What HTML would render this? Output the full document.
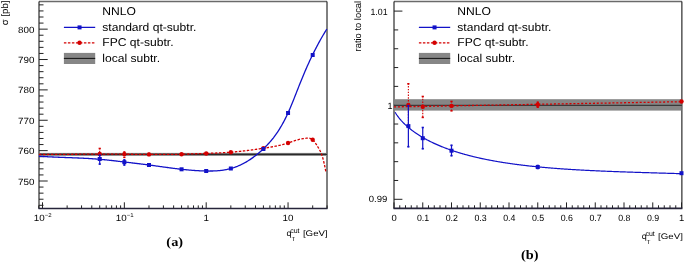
<!DOCTYPE html>
<html><head><meta charset="utf-8"><style>
html,body{margin:0;padding:0;background:#fff;width:685px;height:262px;overflow:hidden;}
svg{display:block;will-change:transform;text-rendering:geometricPrecision;font-family:"Liberation Sans", sans-serif;}
</style></head><body>
<svg width="685" height="262" viewBox="0 0 685 262">
<rect width="685" height="262" fill="#fff"/>
<line x1="39" y1="1.6" x2="327" y2="1.6" stroke="#6a6a6a" stroke-width="1.5" />
<line x1="39" y1="1.5" x2="39" y2="208.5" stroke="#000" stroke-width="1" />
<line x1="327" y1="1.5" x2="327" y2="208.5" stroke="#000" stroke-width="1" />
<line x1="39" y1="205.3" x2="43.5" y2="205.3" stroke="#222" stroke-width="1" />
<line x1="39" y1="199.22" x2="43.5" y2="199.22" stroke="#222" stroke-width="1" />
<line x1="39" y1="193.15" x2="43.5" y2="193.15" stroke="#222" stroke-width="1" />
<line x1="39" y1="187.07" x2="43.5" y2="187.07" stroke="#222" stroke-width="1" />
<line x1="39" y1="181" x2="47.7" y2="181" stroke="#222" stroke-width="1" />
<line x1="39" y1="174.93" x2="43.5" y2="174.93" stroke="#222" stroke-width="1" />
<line x1="39" y1="168.85" x2="43.5" y2="168.85" stroke="#222" stroke-width="1" />
<line x1="39" y1="162.78" x2="43.5" y2="162.78" stroke="#222" stroke-width="1" />
<line x1="39" y1="156.7" x2="43.5" y2="156.7" stroke="#222" stroke-width="1" />
<line x1="39" y1="150.63" x2="47.7" y2="150.63" stroke="#222" stroke-width="1" />
<line x1="39" y1="144.56" x2="43.5" y2="144.56" stroke="#222" stroke-width="1" />
<line x1="39" y1="138.48" x2="43.5" y2="138.48" stroke="#222" stroke-width="1" />
<line x1="39" y1="132.41" x2="43.5" y2="132.41" stroke="#222" stroke-width="1" />
<line x1="39" y1="126.33" x2="43.5" y2="126.33" stroke="#222" stroke-width="1" />
<line x1="39" y1="120.26" x2="47.7" y2="120.26" stroke="#222" stroke-width="1" />
<line x1="39" y1="114.19" x2="43.5" y2="114.19" stroke="#222" stroke-width="1" />
<line x1="39" y1="108.11" x2="43.5" y2="108.11" stroke="#222" stroke-width="1" />
<line x1="39" y1="102.04" x2="43.5" y2="102.04" stroke="#222" stroke-width="1" />
<line x1="39" y1="95.96" x2="43.5" y2="95.96" stroke="#222" stroke-width="1" />
<line x1="39" y1="89.89" x2="47.7" y2="89.89" stroke="#222" stroke-width="1" />
<line x1="39" y1="83.82" x2="43.5" y2="83.82" stroke="#222" stroke-width="1" />
<line x1="39" y1="77.74" x2="43.5" y2="77.74" stroke="#222" stroke-width="1" />
<line x1="39" y1="71.67" x2="43.5" y2="71.67" stroke="#222" stroke-width="1" />
<line x1="39" y1="65.59" x2="43.5" y2="65.59" stroke="#222" stroke-width="1" />
<line x1="39" y1="59.52" x2="47.7" y2="59.52" stroke="#222" stroke-width="1" />
<line x1="39" y1="53.45" x2="43.5" y2="53.45" stroke="#222" stroke-width="1" />
<line x1="39" y1="47.37" x2="43.5" y2="47.37" stroke="#222" stroke-width="1" />
<line x1="39" y1="41.3" x2="43.5" y2="41.3" stroke="#222" stroke-width="1" />
<line x1="39" y1="35.22" x2="43.5" y2="35.22" stroke="#222" stroke-width="1" />
<line x1="39" y1="29.15" x2="47.7" y2="29.15" stroke="#222" stroke-width="1" />
<line x1="39" y1="23.08" x2="43.5" y2="23.08" stroke="#222" stroke-width="1" />
<line x1="39" y1="17" x2="43.5" y2="17" stroke="#222" stroke-width="1" />
<line x1="39" y1="10.93" x2="43.5" y2="10.93" stroke="#222" stroke-width="1" />
<line x1="39" y1="4.85" x2="43.5" y2="4.85" stroke="#222" stroke-width="1" />
<line x1="38.75" y1="208.5" x2="38.75" y2="205.4" stroke="#222" stroke-width="1" />
<line x1="42.5" y1="208.5" x2="42.5" y2="202.3" stroke="#222" stroke-width="1" />
<line x1="67.14" y1="208.5" x2="67.14" y2="205.4" stroke="#222" stroke-width="1" />
<line x1="81.55" y1="208.5" x2="81.55" y2="205.4" stroke="#222" stroke-width="1" />
<line x1="91.78" y1="208.5" x2="91.78" y2="205.4" stroke="#222" stroke-width="1" />
<line x1="99.71" y1="208.5" x2="99.71" y2="205.4" stroke="#222" stroke-width="1" />
<line x1="106.19" y1="208.5" x2="106.19" y2="205.4" stroke="#222" stroke-width="1" />
<line x1="111.67" y1="208.5" x2="111.67" y2="205.4" stroke="#222" stroke-width="1" />
<line x1="116.42" y1="208.5" x2="116.42" y2="205.4" stroke="#222" stroke-width="1" />
<line x1="120.6" y1="208.5" x2="120.6" y2="205.4" stroke="#222" stroke-width="1" />
<line x1="124.35" y1="208.5" x2="124.35" y2="202.3" stroke="#222" stroke-width="1" />
<line x1="148.99" y1="208.5" x2="148.99" y2="205.4" stroke="#222" stroke-width="1" />
<line x1="163.4" y1="208.5" x2="163.4" y2="205.4" stroke="#222" stroke-width="1" />
<line x1="173.63" y1="208.5" x2="173.63" y2="205.4" stroke="#222" stroke-width="1" />
<line x1="181.56" y1="208.5" x2="181.56" y2="205.4" stroke="#222" stroke-width="1" />
<line x1="188.04" y1="208.5" x2="188.04" y2="205.4" stroke="#222" stroke-width="1" />
<line x1="193.52" y1="208.5" x2="193.52" y2="205.4" stroke="#222" stroke-width="1" />
<line x1="198.27" y1="208.5" x2="198.27" y2="205.4" stroke="#222" stroke-width="1" />
<line x1="202.45" y1="208.5" x2="202.45" y2="205.4" stroke="#222" stroke-width="1" />
<line x1="206.2" y1="208.5" x2="206.2" y2="202.3" stroke="#222" stroke-width="1" />
<line x1="230.84" y1="208.5" x2="230.84" y2="205.4" stroke="#222" stroke-width="1" />
<line x1="245.25" y1="208.5" x2="245.25" y2="205.4" stroke="#222" stroke-width="1" />
<line x1="255.48" y1="208.5" x2="255.48" y2="205.4" stroke="#222" stroke-width="1" />
<line x1="263.41" y1="208.5" x2="263.41" y2="205.4" stroke="#222" stroke-width="1" />
<line x1="269.89" y1="208.5" x2="269.89" y2="205.4" stroke="#222" stroke-width="1" />
<line x1="275.37" y1="208.5" x2="275.37" y2="205.4" stroke="#222" stroke-width="1" />
<line x1="280.12" y1="208.5" x2="280.12" y2="205.4" stroke="#222" stroke-width="1" />
<line x1="284.3" y1="208.5" x2="284.3" y2="205.4" stroke="#222" stroke-width="1" />
<line x1="288.05" y1="208.5" x2="288.05" y2="202.3" stroke="#222" stroke-width="1" />
<line x1="312.69" y1="208.5" x2="312.69" y2="205.4" stroke="#222" stroke-width="1" />
<line x1="327.1" y1="208.5" x2="327.1" y2="205.4" stroke="#222" stroke-width="1" />
<line x1="38.5" y1="208.5" x2="327.5" y2="208.5" stroke="#26243a" stroke-width="1.6" />
<rect x="39.5" y="152.9" width="287" height="3.0" fill="#868686"/>
<line x1="39" y1="154.4" x2="327" y2="154.4" stroke="#2a2a2a" stroke-width="1.1" />
<path d="M38.9,154.5L39.62,154.5L40.34,154.5L41.06,154.5L41.78,154.5L42.5,154.49L43.21,154.49L43.93,154.49L44.65,154.49L45.37,154.49L46.09,154.48L46.81,154.48L47.53,154.48L48.25,154.47L48.97,154.47L49.69,154.47L50.4,154.46L51.12,154.46L51.84,154.45L52.56,154.45L53.28,154.44L54,154.44L54.72,154.43L55.44,154.43L56.16,154.42L56.88,154.42L57.6,154.41L58.31,154.41L59.03,154.4L59.75,154.39L60.47,154.39L61.19,154.38L61.91,154.37L62.63,154.37L63.35,154.36L64.07,154.36L64.79,154.35L65.5,154.34L66.22,154.34L66.94,154.33L67.66,154.32L68.38,154.32L69.1,154.31L69.82,154.3L70.54,154.29L71.26,154.29L71.98,154.28L72.7,154.27L73.41,154.27L74.13,154.26L74.85,154.25L75.57,154.25L76.29,154.24L77.01,154.23L77.73,154.23L78.45,154.22L79.17,154.22L79.89,154.21L80.6,154.2L81.32,154.2L82.04,154.19L82.76,154.19L83.48,154.18L84.2,154.17L84.92,154.17L85.64,154.16L86.36,154.16L87.08,154.15L87.8,154.15L88.51,154.14L89.23,154.14L89.95,154.14L90.67,154.13L91.39,154.13L92.11,154.12L92.83,154.12L93.55,154.12L94.27,154.11L94.99,154.11L95.7,154.11L96.42,154.11L97.14,154.11L97.86,154.1L98.58,154.1L99.3,154.1L100.02,154.1L100.74,154.1L101.46,154.1L102.18,154.1L102.9,154.1L103.61,154.1L104.33,154.1L105.05,154.1L105.77,154.1L106.49,154.1L107.21,154.1L107.93,154.11L108.65,154.11L109.37,154.11L110.09,154.11L110.8,154.12L111.52,154.12L112.24,154.12L112.96,154.13L113.68,154.13L114.4,154.13L115.12,154.14L115.84,154.14L116.56,154.14L117.28,154.15L118,154.15L118.71,154.16L119.43,154.16L120.15,154.17L120.87,154.17L121.59,154.18L122.31,154.18L123.03,154.19L123.75,154.19L124.47,154.2L125.19,154.21L125.9,154.21L126.62,154.22L127.34,154.22L128.06,154.23L128.78,154.24L129.5,154.24L130.22,154.25L130.94,154.26L131.66,154.26L132.38,154.27L133.1,154.28L133.81,154.28L134.53,154.29L135.25,154.3L135.97,154.3L136.69,154.31L137.41,154.31L138.13,154.32L138.85,154.33L139.57,154.33L140.29,154.34L141,154.34L141.72,154.35L142.44,154.36L143.16,154.36L143.88,154.37L144.6,154.37L145.32,154.38L146.04,154.38L146.76,154.39L147.48,154.39L148.2,154.4L148.91,154.4L149.63,154.4L150.35,154.41L151.07,154.41L151.79,154.41L152.51,154.42L153.23,154.42L153.95,154.42L154.67,154.42L155.39,154.43L156.1,154.43L156.82,154.43L157.54,154.43L158.26,154.43L158.98,154.43L159.7,154.43L160.42,154.43L161.14,154.43L161.86,154.43L162.58,154.42L163.3,154.42L164.01,154.42L164.73,154.42L165.45,154.41L166.17,154.41L166.89,154.4L167.61,154.4L168.33,154.39L169.05,154.39L169.77,154.38L170.49,154.38L171.2,154.37L171.92,154.36L172.64,154.35L173.36,154.34L174.08,154.33L174.8,154.32L175.52,154.31L176.24,154.3L176.96,154.29L177.68,154.28L178.4,154.27L179.11,154.25L179.83,154.24L180.55,154.22L181.27,154.21L181.99,154.19L182.71,154.17L183.43,154.16L184.15,154.14L184.87,154.12L185.59,154.1L186.3,154.08L187.02,154.06L187.74,154.04L188.46,154.02L189.18,154L189.9,153.98L190.62,153.95L191.34,153.93L192.06,153.91L192.78,153.88L193.5,153.86L194.21,153.84L194.93,153.81L195.65,153.79L196.37,153.76L197.09,153.74L197.81,153.71L198.53,153.68L199.25,153.66L199.97,153.63L200.69,153.61L201.4,153.58L202.12,153.56L202.84,153.53L203.56,153.5L204.28,153.48L205,153.45L205.72,153.42L206.44,153.4L207.16,153.37L207.88,153.35L208.6,153.32L209.31,153.29L210.03,153.27L210.75,153.24L211.47,153.22L212.19,153.19L212.91,153.16L213.63,153.13L214.35,153.11L215.07,153.08L215.79,153.05L216.5,153.02L217.22,152.99L217.94,152.96L218.66,152.92L219.38,152.89L220.1,152.86L220.82,152.82L221.54,152.79L222.26,152.75L222.98,152.71L223.7,152.67L224.41,152.63L225.13,152.59L225.85,152.55L226.57,152.5L227.29,152.46L228.01,152.41L228.73,152.36L229.45,152.31L230.17,152.26L230.89,152.2L231.6,152.14L232.32,152.09L233.04,152.03L233.76,151.97L234.48,151.9L235.2,151.84L235.92,151.77L236.64,151.7L237.36,151.63L238.08,151.56L238.8,151.49L239.51,151.42L240.23,151.34L240.95,151.26L241.67,151.18L242.39,151.1L243.11,151.02L243.83,150.94L244.55,150.86L245.27,150.77L245.99,150.68L246.7,150.6L247.42,150.51L248.14,150.42L248.86,150.33L249.58,150.23L250.3,150.14L251.02,150.04L251.74,149.95L252.46,149.85L253.18,149.75L253.9,149.66L254.61,149.56L255.33,149.45L256.05,149.35L256.77,149.25L257.49,149.15L258.21,149.04L258.93,148.94L259.65,148.83L260.37,148.73L261.09,148.62L261.8,148.51L262.52,148.4L263.24,148.29L263.96,148.18L264.68,148.07L265.4,147.96L266.12,147.85L266.84,147.74L267.56,147.62L268.28,147.5L269,147.38L269.71,147.26L270.43,147.14L271.15,147.01L271.87,146.89L272.59,146.76L273.31,146.62L274.03,146.49L274.75,146.35L275.47,146.2L276.19,146.06L276.9,145.91L277.62,145.75L278.34,145.6L279.06,145.43L279.78,145.27L280.5,145.1L281.22,144.92L281.94,144.74L282.66,144.56L283.38,144.36L284.1,144.17L284.81,143.97L285.53,143.76L286.25,143.54L286.97,143.33L287.69,143.1L288.41,142.87L289.13,142.63L289.85,142.39L290.57,142.14L291.29,141.89L292,141.64L292.72,141.4L293.44,141.15L294.16,140.91L294.88,140.67L295.6,140.43L296.32,140.21L297.04,139.99L297.76,139.78L298.48,139.58L299.2,139.39L299.91,139.22L300.63,139.06L301.35,138.91L302.07,138.78L302.79,138.66L303.51,138.55L304.23,138.45L304.95,138.36L305.67,138.28L306.39,138.21L307.1,138.15L307.82,138.11L308.54,138.11L309.26,138.16L309.98,138.29L310.7,138.52L311.42,138.85L312.14,139.31L312.86,139.92L313.58,140.67L314.3,141.54L315.01,142.52L315.73,143.58L316.45,144.69L317.17,145.85L317.89,147.02L318.61,148.2L319.33,149.43L320.05,150.77L320.77,152.28L321.49,154.04L322.2,156.1L322.92,158.5L323.64,161.23L324.36,164.31L325.08,167.73L325.8,171.5" fill="none" stroke="#d40000" stroke-width="1.3" stroke-dasharray="2.5,1.5"/>
<path d="M38.9,156.2L39.62,156.25L40.34,156.3L41.06,156.35L41.79,156.4L42.51,156.45L43.23,156.49L43.95,156.54L44.67,156.58L45.39,156.62L46.12,156.66L46.84,156.7L47.56,156.74L48.28,156.78L49,156.82L49.72,156.85L50.44,156.89L51.17,156.92L51.89,156.96L52.61,156.99L53.33,157.02L54.05,157.06L54.77,157.09L55.5,157.12L56.22,157.15L56.94,157.18L57.66,157.21L58.38,157.24L59.1,157.27L59.83,157.3L60.55,157.32L61.27,157.35L61.99,157.38L62.71,157.41L63.43,157.43L64.15,157.46L64.88,157.49L65.6,157.51L66.32,157.54L67.04,157.56L67.76,157.59L68.48,157.62L69.21,157.64L69.93,157.67L70.65,157.7L71.37,157.72L72.09,157.75L72.81,157.78L73.53,157.81L74.26,157.84L74.98,157.86L75.7,157.89L76.42,157.92L77.14,157.95L77.86,157.98L78.59,158.01L79.31,158.04L80.03,158.08L80.75,158.11L81.47,158.14L82.19,158.17L82.91,158.21L83.64,158.24L84.36,158.28L85.08,158.32L85.8,158.36L86.52,158.39L87.24,158.43L87.97,158.47L88.69,158.52L89.41,158.56L90.13,158.6L90.85,158.65L91.57,158.69L92.29,158.74L93.02,158.79L93.74,158.84L94.46,158.89L95.18,158.94L95.9,158.99L96.62,159.05L97.35,159.11L98.07,159.16L98.79,159.22L99.51,159.28L100.23,159.35L100.95,159.41L101.68,159.48L102.4,159.54L103.12,159.61L103.84,159.68L104.56,159.75L105.28,159.82L106,159.9L106.73,159.97L107.45,160.05L108.17,160.12L108.89,160.2L109.61,160.28L110.33,160.36L111.06,160.44L111.78,160.52L112.5,160.6L113.22,160.68L113.94,160.76L114.66,160.85L115.38,160.93L116.11,161.01L116.83,161.1L117.55,161.18L118.27,161.27L118.99,161.36L119.71,161.44L120.44,161.53L121.16,161.61L121.88,161.7L122.6,161.79L123.32,161.87L124.04,161.96L124.76,162.04L125.49,162.13L126.21,162.21L126.93,162.3L127.65,162.39L128.37,162.47L129.09,162.56L129.82,162.64L130.54,162.73L131.26,162.81L131.98,162.9L132.7,162.98L133.42,163.07L134.15,163.16L134.87,163.24L135.59,163.33L136.31,163.41L137.03,163.5L137.75,163.59L138.47,163.68L139.2,163.76L139.92,163.85L140.64,163.94L141.36,164.03L142.08,164.12L142.8,164.21L143.53,164.3L144.25,164.39L144.97,164.48L145.69,164.57L146.41,164.66L147.13,164.76L147.85,164.85L148.58,164.94L149.3,165.04L150.02,165.13L150.74,165.23L151.46,165.33L152.18,165.43L152.91,165.52L153.63,165.62L154.35,165.72L155.07,165.82L155.79,165.92L156.51,166.02L157.23,166.12L157.96,166.22L158.68,166.32L159.4,166.42L160.12,166.52L160.84,166.62L161.56,166.72L162.29,166.82L163.01,166.92L163.73,167.02L164.45,167.12L165.17,167.22L165.89,167.32L166.62,167.42L167.34,167.51L168.06,167.61L168.78,167.71L169.5,167.8L170.22,167.9L170.94,168L171.67,168.09L172.39,168.18L173.11,168.28L173.83,168.37L174.55,168.46L175.27,168.55L176,168.64L176.72,168.73L177.44,168.82L178.16,168.9L178.88,168.99L179.6,169.07L180.32,169.16L181.05,169.24L181.77,169.32L182.49,169.4L183.21,169.47L183.93,169.55L184.65,169.63L185.38,169.7L186.1,169.77L186.82,169.84L187.54,169.91L188.26,169.97L188.98,170.04L189.7,170.1L190.43,170.16L191.15,170.22L191.87,170.28L192.59,170.34L193.31,170.39L194.03,170.44L194.76,170.49L195.48,170.54L196.2,170.59L196.92,170.63L197.64,170.67L198.36,170.71L199.08,170.75L199.81,170.79L200.53,170.82L201.25,170.85L201.97,170.88L202.69,170.9L203.41,170.93L204.14,170.95L204.86,170.97L205.58,170.98L206.3,171L207.02,171.01L207.74,171.02L208.47,171.02L209.19,171.03L209.91,171.02L210.63,171.02L211.35,171.01L212.07,171L212.79,170.98L213.52,170.96L214.24,170.93L214.96,170.9L215.68,170.87L216.4,170.82L217.12,170.78L217.85,170.72L218.57,170.66L219.29,170.6L220.01,170.53L220.73,170.45L221.45,170.36L222.17,170.27L222.9,170.17L223.62,170.06L224.34,169.94L225.06,169.82L225.78,169.69L226.5,169.55L227.23,169.4L227.95,169.24L228.67,169.08L229.39,168.9L230.11,168.71L230.83,168.52L231.55,168.31L232.28,168.1L233,167.87L233.72,167.64L234.44,167.39L235.16,167.14L235.88,166.87L236.61,166.59L237.33,166.31L238.05,166.01L238.77,165.7L239.49,165.39L240.21,165.06L240.94,164.72L241.66,164.37L242.38,164.01L243.1,163.64L243.82,163.26L244.54,162.87L245.26,162.47L245.99,162.06L246.71,161.64L247.43,161.2L248.15,160.76L248.87,160.3L249.59,159.84L250.32,159.36L251.04,158.87L251.76,158.38L252.48,157.87L253.2,157.35L253.92,156.82L254.64,156.27L255.37,155.72L256.09,155.16L256.81,154.58L257.53,154L258.25,153.4L258.97,152.79L259.7,152.17L260.42,151.54L261.14,150.9L261.86,150.24L262.58,149.58L263.3,148.9L264.02,148.21L264.75,147.51L265.47,146.8L266.19,146.07L266.91,145.33L267.63,144.57L268.35,143.8L269.08,143L269.8,142.19L270.52,141.36L271.24,140.51L271.96,139.64L272.68,138.74L273.41,137.83L274.13,136.89L274.85,135.92L275.57,134.93L276.29,133.91L277.01,132.87L277.73,131.8L278.46,130.7L279.18,129.56L279.9,128.4L280.62,127.21L281.34,125.99L282.06,124.73L282.79,123.43L283.51,122.11L284.23,120.74L284.95,119.34L285.67,117.91L286.39,116.43L287.11,114.91L287.84,113.36L288.56,111.76L289.28,110.13L290,108.46L290.72,106.76L291.44,105.02L292.17,103.27L292.89,101.49L293.61,99.69L294.33,97.88L295.05,96.06L295.77,94.22L296.49,92.38L297.22,90.54L297.94,88.7L298.66,86.87L299.38,85.04L300.1,83.23L300.82,81.42L301.55,79.64L302.27,77.88L302.99,76.14L303.71,74.41L304.43,72.71L305.15,71.03L305.87,69.37L306.6,67.72L307.32,66.1L308.04,64.5L308.76,62.91L309.48,61.34L310.2,59.8L310.93,58.27L311.65,56.76L312.37,55.27L313.09,53.8L313.81,52.34L314.53,50.9L315.26,49.49L315.98,48.09L316.7,46.7L317.42,45.34L318.14,43.99L318.86,42.66L319.58,41.34L320.31,40.04L321.03,38.76L321.75,37.5L322.47,36.25L323.19,35.02L323.91,33.8L324.64,32.6L325.36,31.42L326.08,30.25L326.8,29.1" fill="none" stroke="#1212c8" stroke-width="1.3"/>
<line x1="99.71" y1="148" x2="99.71" y2="159.6" stroke="#d40000" stroke-width="1.1" stroke-dasharray="1.4,1.4"/>
<rect x="98.61" y="147.7" width="2.2" height="1.6" fill="#d40000"/>
<rect x="98.61" y="158.3" width="2.2" height="1.6" fill="#d40000"/>
<circle cx="99.71" cy="153.9" r="2.2" fill="#d40000"/>
<line x1="124.35" y1="151.6" x2="124.35" y2="157.8" stroke="#d40000" stroke-width="1.1" stroke-dasharray="1.4,1.4"/>
<rect x="123.25" y="151.3" width="2.2" height="1.6" fill="#d40000"/>
<rect x="123.25" y="156.5" width="2.2" height="1.6" fill="#d40000"/>
<circle cx="124.35" cy="154.1" r="2.2" fill="#d40000"/>
<line x1="148.99" y1="153" x2="148.99" y2="155.8" stroke="#d40000" stroke-width="1.1" stroke-dasharray="1.4,1.4"/>
<rect x="147.89" y="152.7" width="2.2" height="1.6" fill="#d40000"/>
<rect x="147.89" y="154.5" width="2.2" height="1.6" fill="#d40000"/>
<circle cx="148.99" cy="154.4" r="2.2" fill="#d40000"/>
<circle cx="181.56" cy="154.2" r="2.2" fill="#d40000"/>
<circle cx="206.2" cy="153.5" r="2.2" fill="#d40000"/>
<circle cx="230.84" cy="152.3" r="2.2" fill="#d40000"/>
<circle cx="263.41" cy="148.3" r="2.2" fill="#d40000"/>
<circle cx="288.05" cy="143" r="2.2" fill="#d40000"/>
<circle cx="312.69" cy="139.7" r="2.2" fill="#d40000"/>
<line x1="99.71" y1="154.8" x2="99.71" y2="164.6" stroke="#1212c8" stroke-width="1.2" />
<rect x="98.61" y="154.5" width="2.2" height="1.6" fill="#1212c8"/>
<rect x="98.61" y="163.3" width="2.2" height="1.6" fill="#1212c8"/>
<rect x="97.71" y="157" width="4" height="4" fill="#1212c8"/>
<line x1="124.35" y1="159.4" x2="124.35" y2="165.5" stroke="#1212c8" stroke-width="1.2" />
<rect x="123.25" y="159.1" width="2.2" height="1.6" fill="#1212c8"/>
<rect x="123.25" y="164.2" width="2.2" height="1.6" fill="#1212c8"/>
<rect x="122.35" y="160.2" width="4" height="4" fill="#1212c8"/>
<rect x="146.99" y="163" width="4" height="4" fill="#1212c8"/>
<rect x="179.56" y="167.3" width="4" height="4" fill="#1212c8"/>
<rect x="204.2" y="169" width="4" height="4" fill="#1212c8"/>
<rect x="228.84" y="166.5" width="4" height="4" fill="#1212c8"/>
<rect x="261.41" y="147" width="4" height="4" fill="#1212c8"/>
<rect x="286.05" y="111" width="4" height="4" fill="#1212c8"/>
<rect x="310.69" y="53" width="4" height="4" fill="#1212c8"/>
<text transform="translate(34.4,32.7) scale(1.09,1)" font-size="9" text-anchor="end" fill="#000" font-family='"Liberation Sans", sans-serif' font-weight="normal" >800</text>
<text transform="translate(34.4,63.07) scale(1.09,1)" font-size="9" text-anchor="end" fill="#000" font-family='"Liberation Sans", sans-serif' font-weight="normal" >790</text>
<text transform="translate(34.4,93.44) scale(1.09,1)" font-size="9" text-anchor="end" fill="#000" font-family='"Liberation Sans", sans-serif' font-weight="normal" >780</text>
<text transform="translate(34.4,123.81) scale(1.09,1)" font-size="9" text-anchor="end" fill="#000" font-family='"Liberation Sans", sans-serif' font-weight="normal" >770</text>
<text transform="translate(34.4,154.18) scale(1.09,1)" font-size="9" text-anchor="end" fill="#000" font-family='"Liberation Sans", sans-serif' font-weight="normal" >760</text>
<text transform="translate(34.4,184.55) scale(1.09,1)" font-size="9" text-anchor="end" fill="#000" font-family='"Liberation Sans", sans-serif' font-weight="normal" >750</text>
<text transform="translate(42.8,221.0) scale(1.09,1)" font-size="9" text-anchor="middle" font-family='"Liberation Sans", sans-serif'>10<tspan font-size="5.6" dy="-4">&#8722;2</tspan></text>
<text transform="translate(124.65,221.0) scale(1.09,1)" font-size="9" text-anchor="middle" font-family='"Liberation Sans", sans-serif'>10<tspan font-size="5.6" dy="-4">&#8722;1</tspan></text>
<text transform="translate(206.2,221) scale(1.09,1)" font-size="9" text-anchor="middle" fill="#000" font-family='"Liberation Sans", sans-serif' font-weight="normal" >1</text>
<text transform="translate(288.05,221) scale(1.09,1)" font-size="9" text-anchor="middle" fill="#000" font-family='"Liberation Sans", sans-serif' font-weight="normal" >10</text>
<text transform="translate(302.9,235.8) scale(1.2,1)" font-size="8.1" text-anchor="start" fill="#000" font-family='"Liberation Sans", sans-serif' font-weight="normal" >[GeV]</text><text transform="translate(286.6,235.8) scale(1.05,1)" font-size="8.6" text-anchor="start" fill="#000" font-family='"Liberation Sans", sans-serif' font-weight="normal" >q</text><text transform="translate(290.2,232.9) scale(1,1)" font-size="7" text-anchor="start" fill="#000" font-family='"Liberation Sans", sans-serif' font-weight="normal" >cut</text><text transform="translate(291.6,241) scale(1,1)" font-size="6" text-anchor="start" fill="#000" font-family='"Liberation Sans", sans-serif' font-weight="normal" >T</text>
<text transform="translate(7.8,25.2) rotate(-90)" font-size="9.6" font-family='"Liberation Sans", sans-serif'>&#963; [pb]</text>
<text transform="translate(102.3,14.7) scale(1.07,1)" font-size="11.3" text-anchor="start" fill="#000" font-family='"Liberation Sans", sans-serif' font-weight="normal" >NNLO</text><text transform="translate(102.3,30.5) scale(1.07,1)" font-size="11.3" text-anchor="start" fill="#000" font-family='"Liberation Sans", sans-serif' font-weight="normal" >standard qt-subtr.</text><text transform="translate(102.3,46) scale(1.07,1)" font-size="11.3" text-anchor="start" fill="#000" font-family='"Liberation Sans", sans-serif' font-weight="normal" >FPC qt-subtr.</text><text transform="translate(102.3,61.5) scale(1.07,1)" font-size="11.3" text-anchor="start" fill="#000" font-family='"Liberation Sans", sans-serif' font-weight="normal" >local subtr.</text><line x1="63.9" y1="27.4" x2="95.2" y2="27.4" stroke="#1212c8" stroke-width="1.3" /><rect x="77.55" y="25.4" width="4" height="4" fill="#1212c8"/><line x1="63.9" y1="42.8" x2="95.2" y2="42.8" stroke="#d40000" stroke-width="1.3" stroke-dasharray="2.5,1.5"/><circle cx="79.55" cy="42.8" r="2.2" fill="#d40000"/><rect x="63.9" y="52.9" width="31.3" height="11.1" fill="#868686"/><line x1="63.9" y1="58.4" x2="95.2" y2="58.4" stroke="#111" stroke-width="1" />
<text transform="translate(174.7,245.5) scale(1.1,1)" font-size="13" text-anchor="middle" fill="#000" font-family='"Liberation Serif", serif' font-weight="bold" >(a)</text>
<line x1="394" y1="1.6" x2="681.9" y2="1.6" stroke="#6a6a6a" stroke-width="1.5" />
<line x1="394" y1="1.5" x2="394" y2="208.4" stroke="#000" stroke-width="1" />
<line x1="681.9" y1="1.5" x2="681.9" y2="208.4" stroke="#000" stroke-width="1" />
<line x1="394" y1="199.3" x2="402.4" y2="199.3" stroke="#222" stroke-width="1" />
<line x1="394" y1="180.48" x2="398.2" y2="180.48" stroke="#222" stroke-width="1" />
<line x1="394" y1="161.66" x2="398.2" y2="161.66" stroke="#222" stroke-width="1" />
<line x1="394" y1="142.84" x2="398.2" y2="142.84" stroke="#222" stroke-width="1" />
<line x1="394" y1="124.02" x2="398.2" y2="124.02" stroke="#222" stroke-width="1" />
<line x1="394" y1="105.2" x2="402.4" y2="105.2" stroke="#222" stroke-width="1" />
<line x1="394" y1="86.38" x2="398.2" y2="86.38" stroke="#222" stroke-width="1" />
<line x1="394" y1="67.56" x2="398.2" y2="67.56" stroke="#222" stroke-width="1" />
<line x1="394" y1="48.74" x2="398.2" y2="48.74" stroke="#222" stroke-width="1" />
<line x1="394" y1="29.92" x2="398.2" y2="29.92" stroke="#222" stroke-width="1" />
<line x1="394" y1="11.1" x2="402.4" y2="11.1" stroke="#222" stroke-width="1" />
<line x1="394" y1="208.4" x2="394" y2="202.4" stroke="#222" stroke-width="1" />
<line x1="399.75" y1="208.4" x2="399.75" y2="205.3" stroke="#222" stroke-width="1" />
<line x1="405.5" y1="208.4" x2="405.5" y2="205.3" stroke="#222" stroke-width="1" />
<line x1="411.25" y1="208.4" x2="411.25" y2="205.3" stroke="#222" stroke-width="1" />
<line x1="417" y1="208.4" x2="417" y2="205.3" stroke="#222" stroke-width="1" />
<line x1="422.75" y1="208.4" x2="422.75" y2="202.4" stroke="#222" stroke-width="1" />
<line x1="428.5" y1="208.4" x2="428.5" y2="205.3" stroke="#222" stroke-width="1" />
<line x1="434.25" y1="208.4" x2="434.25" y2="205.3" stroke="#222" stroke-width="1" />
<line x1="440" y1="208.4" x2="440" y2="205.3" stroke="#222" stroke-width="1" />
<line x1="445.75" y1="208.4" x2="445.75" y2="205.3" stroke="#222" stroke-width="1" />
<line x1="451.5" y1="208.4" x2="451.5" y2="202.4" stroke="#222" stroke-width="1" />
<line x1="457.25" y1="208.4" x2="457.25" y2="205.3" stroke="#222" stroke-width="1" />
<line x1="463" y1="208.4" x2="463" y2="205.3" stroke="#222" stroke-width="1" />
<line x1="468.75" y1="208.4" x2="468.75" y2="205.3" stroke="#222" stroke-width="1" />
<line x1="474.5" y1="208.4" x2="474.5" y2="205.3" stroke="#222" stroke-width="1" />
<line x1="480.25" y1="208.4" x2="480.25" y2="202.4" stroke="#222" stroke-width="1" />
<line x1="486" y1="208.4" x2="486" y2="205.3" stroke="#222" stroke-width="1" />
<line x1="491.75" y1="208.4" x2="491.75" y2="205.3" stroke="#222" stroke-width="1" />
<line x1="497.5" y1="208.4" x2="497.5" y2="205.3" stroke="#222" stroke-width="1" />
<line x1="503.25" y1="208.4" x2="503.25" y2="205.3" stroke="#222" stroke-width="1" />
<line x1="509" y1="208.4" x2="509" y2="202.4" stroke="#222" stroke-width="1" />
<line x1="514.75" y1="208.4" x2="514.75" y2="205.3" stroke="#222" stroke-width="1" />
<line x1="520.5" y1="208.4" x2="520.5" y2="205.3" stroke="#222" stroke-width="1" />
<line x1="526.25" y1="208.4" x2="526.25" y2="205.3" stroke="#222" stroke-width="1" />
<line x1="532" y1="208.4" x2="532" y2="205.3" stroke="#222" stroke-width="1" />
<line x1="537.75" y1="208.4" x2="537.75" y2="202.4" stroke="#222" stroke-width="1" />
<line x1="543.5" y1="208.4" x2="543.5" y2="205.3" stroke="#222" stroke-width="1" />
<line x1="549.25" y1="208.4" x2="549.25" y2="205.3" stroke="#222" stroke-width="1" />
<line x1="555" y1="208.4" x2="555" y2="205.3" stroke="#222" stroke-width="1" />
<line x1="560.75" y1="208.4" x2="560.75" y2="205.3" stroke="#222" stroke-width="1" />
<line x1="566.5" y1="208.4" x2="566.5" y2="202.4" stroke="#222" stroke-width="1" />
<line x1="572.25" y1="208.4" x2="572.25" y2="205.3" stroke="#222" stroke-width="1" />
<line x1="578" y1="208.4" x2="578" y2="205.3" stroke="#222" stroke-width="1" />
<line x1="583.75" y1="208.4" x2="583.75" y2="205.3" stroke="#222" stroke-width="1" />
<line x1="589.5" y1="208.4" x2="589.5" y2="205.3" stroke="#222" stroke-width="1" />
<line x1="595.25" y1="208.4" x2="595.25" y2="202.4" stroke="#222" stroke-width="1" />
<line x1="601" y1="208.4" x2="601" y2="205.3" stroke="#222" stroke-width="1" />
<line x1="606.75" y1="208.4" x2="606.75" y2="205.3" stroke="#222" stroke-width="1" />
<line x1="612.5" y1="208.4" x2="612.5" y2="205.3" stroke="#222" stroke-width="1" />
<line x1="618.25" y1="208.4" x2="618.25" y2="205.3" stroke="#222" stroke-width="1" />
<line x1="624" y1="208.4" x2="624" y2="202.4" stroke="#222" stroke-width="1" />
<line x1="629.75" y1="208.4" x2="629.75" y2="205.3" stroke="#222" stroke-width="1" />
<line x1="635.5" y1="208.4" x2="635.5" y2="205.3" stroke="#222" stroke-width="1" />
<line x1="641.25" y1="208.4" x2="641.25" y2="205.3" stroke="#222" stroke-width="1" />
<line x1="647" y1="208.4" x2="647" y2="205.3" stroke="#222" stroke-width="1" />
<line x1="652.75" y1="208.4" x2="652.75" y2="202.4" stroke="#222" stroke-width="1" />
<line x1="658.5" y1="208.4" x2="658.5" y2="205.3" stroke="#222" stroke-width="1" />
<line x1="664.25" y1="208.4" x2="664.25" y2="205.3" stroke="#222" stroke-width="1" />
<line x1="670" y1="208.4" x2="670" y2="205.3" stroke="#222" stroke-width="1" />
<line x1="675.75" y1="208.4" x2="675.75" y2="205.3" stroke="#222" stroke-width="1" />
<line x1="681.5" y1="208.4" x2="681.5" y2="202.4" stroke="#222" stroke-width="1" />
<line x1="393.5" y1="208.4" x2="682.4" y2="208.4" stroke="#26243a" stroke-width="1.6" />
<rect x="394.5" y="99.2" width="286.9" height="11.4" fill="#868686"/>
<line x1="394" y1="105.35" x2="681.9" y2="105.35" stroke="#3a3a3a" stroke-width="1.1" />
<line x1="394" y1="106.9" x2="681.9" y2="101.7" stroke="#d40000" stroke-width="1.3" stroke-dasharray="2.1,1.8"/>
<path d="M395.15,112.21L395.72,113.22L396.3,114.16L396.87,115.03L397.45,115.86L398.02,116.65L398.59,117.41L399.17,118.14L399.74,118.84L400.31,119.52L400.89,120.18L401.46,120.82L402.04,121.44L402.61,122.05L403.18,122.64L403.76,123.22L404.33,123.78L404.91,124.33L405.48,124.87L406.05,125.4L406.63,125.92L407.2,126.43L407.77,126.93L408.35,127.41L408.92,127.89L409.5,128.37L410.07,128.83L410.64,129.28L411.22,129.73L411.79,130.17L412.37,130.61L412.94,131.03L413.51,131.45L414.09,131.87L414.66,132.27L415.23,132.67L415.81,133.07L416.38,133.46L416.96,133.84L417.53,134.22L418.1,134.6L418.68,134.97L419.25,135.33L419.83,135.69L420.4,136.04L420.97,136.39L421.55,136.74L422.12,137.08L422.69,137.42L423.27,137.75L423.84,138.08L424.42,138.4L424.99,138.72L425.56,139.04L426.14,139.35L426.71,139.66L427.29,139.96L427.86,140.27L428.43,140.57L429.01,140.86L429.58,141.15L430.15,141.44L430.73,141.73L431.3,142.01L431.88,142.29L432.45,142.56L433.02,142.84L433.6,143.11L434.17,143.37L434.75,143.64L435.32,143.9L435.89,144.16L436.47,144.41L437.04,144.67L437.61,144.92L438.19,145.16L438.76,145.41L439.34,145.65L439.91,145.89L440.48,146.13L441.06,146.37L441.63,146.6L442.21,146.83L442.78,147.06L443.35,147.29L443.93,147.51L444.5,147.73L445.07,147.95L445.65,148.17L446.22,148.39L446.8,148.6L447.37,148.81L447.94,149.02L448.52,149.23L449.09,149.43L449.67,149.64L450.24,149.84L450.81,150.04L451.39,150.24L451.96,150.43L452.53,150.63L453.11,150.82L453.68,151.01L454.26,151.2L454.83,151.38L455.4,151.57L455.98,151.75L456.55,151.94L457.13,152.12L457.7,152.29L458.27,152.47L458.85,152.65L459.42,152.82L459.99,152.99L460.57,153.16L461.14,153.33L461.72,153.5L462.29,153.67L462.86,153.83L463.44,154L464.01,154.16L464.59,154.32L465.16,154.48L465.73,154.64L466.31,154.79L466.88,154.95L467.45,155.1L468.03,155.25L468.6,155.4L469.18,155.55L469.75,155.7L470.32,155.85L470.9,155.99L471.47,156.14L472.05,156.28L472.62,156.42L473.19,156.57L473.77,156.71L474.34,156.84L474.91,156.98L475.49,157.12L476.06,157.25L476.64,157.39L477.21,157.52L477.78,157.65L478.36,157.78L478.93,157.91L479.51,158.04L480.08,158.17L480.65,158.29L481.23,158.42L481.8,158.54L482.37,158.66L482.95,158.79L483.52,158.91L484.1,159.03L484.67,159.15L485.24,159.26L485.82,159.38L486.39,159.5L486.97,159.61L487.54,159.73L488.11,159.84L488.69,159.95L489.26,160.06L489.83,160.17L490.41,160.28L490.98,160.39L491.56,160.5L492.13,160.6L492.7,160.71L493.28,160.82L493.85,160.92L494.43,161.02L495,161.13L495.57,161.23L496.15,161.33L496.72,161.43L497.29,161.53L497.87,161.63L498.44,161.72L499.02,161.82L499.59,161.92L500.16,162.01L500.74,162.11L501.31,162.2L501.89,162.29L502.46,162.38L503.03,162.48L503.61,162.57L504.18,162.66L504.75,162.75L505.33,162.83L505.9,162.92L506.48,163.01L507.05,163.1L507.62,163.18L508.2,163.27L508.77,163.35L509.35,163.43L509.92,163.52L510.49,163.6L511.07,163.68L511.64,163.76L512.21,163.84L512.79,163.92L513.36,164L513.94,164.08L514.51,164.16L515.08,164.23L515.66,164.31L516.23,164.39L516.81,164.46L517.38,164.54L517.95,164.61L518.53,164.68L519.1,164.76L519.67,164.83L520.25,164.9L520.82,164.97L521.4,165.04L521.97,165.11L522.54,165.18L523.12,165.25L523.69,165.32L524.27,165.39L524.84,165.46L525.41,165.52L525.99,165.59L526.56,165.65L527.13,165.72L527.71,165.78L528.28,165.85L528.86,165.91L529.43,165.98L530,166.04L530.58,166.1L531.15,166.16L531.73,166.22L532.3,166.28L532.87,166.34L533.45,166.4L534.02,166.46L534.59,166.52L535.17,166.58L535.74,166.64L536.32,166.7L536.89,166.75L537.46,166.81L538.04,166.87L538.61,166.92L539.19,166.98L539.76,167.03L540.33,167.09L540.91,167.14L541.48,167.19L542.06,167.25L542.63,167.3L543.2,167.35L543.78,167.4L544.35,167.45L544.92,167.51L545.5,167.56L546.07,167.61L546.65,167.66L547.22,167.71L547.79,167.76L548.37,167.8L548.94,167.85L549.52,167.9L550.09,167.95L550.66,168L551.24,168.04L551.81,168.09L552.38,168.13L552.96,168.18L553.53,168.23L554.11,168.27L554.68,168.32L555.25,168.36L555.83,168.4L556.4,168.45L556.98,168.49L557.55,168.53L558.12,168.58L558.7,168.62L559.27,168.66L559.84,168.7L560.42,168.75L560.99,168.79L561.57,168.83L562.14,168.87L562.71,168.91L563.29,168.95L563.86,168.99L564.44,169.03L565.01,169.07L565.58,169.1L566.16,169.14L566.73,169.18L567.3,169.22L567.88,169.26L568.45,169.29L569.03,169.33L569.6,169.37L570.17,169.4L570.75,169.44L571.32,169.48L571.9,169.51L572.47,169.55L573.04,169.58L573.62,169.62L574.19,169.65L574.76,169.69L575.34,169.72L575.91,169.75L576.49,169.79L577.06,169.82L577.63,169.85L578.21,169.89L578.78,169.92L579.36,169.95L579.93,169.98L580.5,170.02L581.08,170.05L581.65,170.08L582.22,170.11L582.8,170.14L583.37,170.17L583.95,170.2L584.52,170.23L585.09,170.26L585.67,170.29L586.24,170.32L586.82,170.35L587.39,170.38L587.96,170.41L588.54,170.44L589.11,170.47L589.68,170.5L590.26,170.53L590.83,170.56L591.41,170.58L591.98,170.61L592.55,170.64L593.13,170.67L593.7,170.69L594.28,170.72L594.85,170.75L595.42,170.77L596,170.8L596.57,170.83L597.14,170.85L597.72,170.88L598.29,170.91L598.87,170.93L599.44,170.96L600.01,170.98L600.59,171.01L601.16,171.03L601.74,171.06L602.31,171.08L602.88,171.11L603.46,171.13L604.03,171.16L604.6,171.18L605.18,171.2L605.75,171.23L606.33,171.25L606.9,171.27L607.47,171.3L608.05,171.32L608.62,171.34L609.2,171.37L609.77,171.39L610.34,171.41L610.92,171.44L611.49,171.46L612.06,171.48L612.64,171.5L613.21,171.52L613.79,171.55L614.36,171.57L614.93,171.59L615.51,171.61L616.08,171.63L616.66,171.66L617.23,171.68L617.8,171.7L618.38,171.72L618.95,171.74L619.52,171.76L620.1,171.78L620.67,171.8L621.25,171.82L621.82,171.84L622.39,171.86L622.97,171.88L623.54,171.9L624.12,171.92L624.69,171.94L625.26,171.96L625.84,171.98L626.41,172L626.98,172.02L627.56,172.04L628.13,172.06L628.71,172.08L629.28,172.1L629.85,172.12L630.43,172.14L631,172.16L631.58,172.18L632.15,172.2L632.72,172.22L633.3,172.24L633.87,172.25L634.44,172.27L635.02,172.29L635.59,172.31L636.17,172.33L636.74,172.35L637.31,172.36L637.89,172.38L638.46,172.4L639.04,172.42L639.61,172.44L640.18,172.46L640.76,172.47L641.33,172.49L641.9,172.51L642.48,172.53L643.05,172.55L643.63,172.56L644.2,172.58L644.77,172.6L645.35,172.62L645.92,172.63L646.5,172.65L647.07,172.67L647.64,172.69L648.22,172.7L648.79,172.72L649.36,172.74L649.94,172.76L650.51,172.77L651.09,172.79L651.66,172.81L652.23,172.83L652.81,172.84L653.38,172.86L653.96,172.88L654.53,172.89L655.1,172.91L655.68,172.93L656.25,172.94L656.82,172.96L657.4,172.98L657.97,173L658.55,173.01L659.12,173.03L659.69,173.05L660.27,173.06L660.84,173.08L661.42,173.1L661.99,173.11L662.56,173.13L663.14,173.15L663.71,173.17L664.28,173.18L664.86,173.2L665.43,173.22L666.01,173.23L666.58,173.25L667.15,173.27L667.73,173.28L668.3,173.3L668.88,173.32L669.45,173.33L670.02,173.35L670.6,173.37L671.17,173.38L671.74,173.4L672.32,173.42L672.89,173.43L673.47,173.45L674.04,173.47L674.61,173.49L675.19,173.5L675.76,173.52L676.34,173.54L676.91,173.55L677.48,173.57L678.06,173.59L678.63,173.6L679.2,173.62L679.78,173.64L680.35,173.66L680.93,173.67L681.5,173.69" fill="none" stroke="#1212c8" stroke-width="1.2"/>
<line x1="408.38" y1="83.3" x2="408.38" y2="126.7" stroke="#d40000" stroke-width="1.1" stroke-dasharray="1.4,1.4"/>
<rect x="407.27" y="83" width="2.2" height="1.6" fill="#d40000"/>
<rect x="407.27" y="125.4" width="2.2" height="1.6" fill="#d40000"/>
<circle cx="408.38" cy="105" r="2.2" fill="#d40000"/>
<line x1="422.75" y1="96" x2="422.75" y2="117.9" stroke="#d40000" stroke-width="1.1" stroke-dasharray="1.4,1.4"/>
<rect x="421.65" y="95.7" width="2.2" height="1.6" fill="#d40000"/>
<rect x="421.65" y="116.6" width="2.2" height="1.6" fill="#d40000"/>
<circle cx="422.75" cy="106.7" r="2.2" fill="#d40000"/>
<line x1="451.5" y1="101" x2="451.5" y2="111.3" stroke="#d40000" stroke-width="1.1" stroke-dasharray="1.4,1.4"/>
<rect x="450.4" y="100.7" width="2.2" height="1.6" fill="#d40000"/>
<rect x="450.4" y="110" width="2.2" height="1.6" fill="#d40000"/>
<circle cx="451.5" cy="105.9" r="2.2" fill="#d40000"/>
<line x1="537.75" y1="101.8" x2="537.75" y2="107.7" stroke="#d40000" stroke-width="1.1" stroke-dasharray="1.4,1.4"/>
<rect x="536.65" y="101.5" width="2.2" height="1.6" fill="#d40000"/>
<rect x="536.65" y="106.4" width="2.2" height="1.6" fill="#d40000"/>
<circle cx="537.75" cy="104.8" r="2.2" fill="#d40000"/>
<circle cx="681.5" cy="101.5" r="2.2" fill="#d40000"/>
<line x1="408.38" y1="105.2" x2="408.38" y2="147.2" stroke="#1212c8" stroke-width="1.2" />
<rect x="407.27" y="104.9" width="2.2" height="1.6" fill="#1212c8"/>
<rect x="407.27" y="145.9" width="2.2" height="1.6" fill="#1212c8"/>
<rect x="406.38" y="124.1" width="4" height="4" fill="#1212c8"/>
<line x1="422.75" y1="127" x2="422.75" y2="149.2" stroke="#1212c8" stroke-width="1.2" />
<rect x="421.65" y="126.7" width="2.2" height="1.6" fill="#1212c8"/>
<rect x="421.65" y="147.9" width="2.2" height="1.6" fill="#1212c8"/>
<rect x="420.75" y="136.2" width="4" height="4" fill="#1212c8"/>
<line x1="451.5" y1="144.8" x2="451.5" y2="156.2" stroke="#1212c8" stroke-width="1.2" />
<rect x="450.4" y="144.5" width="2.2" height="1.6" fill="#1212c8"/>
<rect x="450.4" y="154.9" width="2.2" height="1.6" fill="#1212c8"/>
<rect x="449.5" y="148.7" width="4" height="4" fill="#1212c8"/>
<line x1="537.75" y1="165" x2="537.75" y2="169" stroke="#1212c8" stroke-width="1.2" />
<rect x="536.65" y="164.7" width="2.2" height="1.6" fill="#1212c8"/>
<rect x="536.65" y="167.7" width="2.2" height="1.6" fill="#1212c8"/>
<rect x="535.75" y="165" width="4" height="4" fill="#1212c8"/>
<rect x="679.5" y="171.2" width="4" height="4" fill="#1212c8"/>
<text transform="translate(387.6,14.6) scale(0.98,1)" font-size="9" text-anchor="end" fill="#000" font-family='"Liberation Sans", sans-serif' font-weight="normal" >1.01</text>
<text transform="translate(392.6,108.7) scale(1,1)" font-size="9" text-anchor="end" fill="#000" font-family='"Liberation Sans", sans-serif' font-weight="normal" >1</text>
<text transform="translate(387.4,202) scale(1.06,1)" font-size="9" text-anchor="end" fill="#000" font-family='"Liberation Sans", sans-serif' font-weight="normal" >0.99</text>
<text transform="translate(394,220.7) scale(1.05,1)" font-size="9" text-anchor="middle" fill="#000" font-family='"Liberation Sans", sans-serif' font-weight="normal" >0</text>
<text transform="translate(423.05,220.7) scale(0.98,1)" font-size="9" text-anchor="middle" fill="#000" font-family='"Liberation Sans", sans-serif' font-weight="normal" >0.1</text>
<text transform="translate(451.8,220.7) scale(0.98,1)" font-size="9" text-anchor="middle" fill="#000" font-family='"Liberation Sans", sans-serif' font-weight="normal" >0.2</text>
<text transform="translate(480.55,220.7) scale(0.98,1)" font-size="9" text-anchor="middle" fill="#000" font-family='"Liberation Sans", sans-serif' font-weight="normal" >0.3</text>
<text transform="translate(509.3,220.7) scale(0.98,1)" font-size="9" text-anchor="middle" fill="#000" font-family='"Liberation Sans", sans-serif' font-weight="normal" >0.4</text>
<text transform="translate(538.05,220.7) scale(0.98,1)" font-size="9" text-anchor="middle" fill="#000" font-family='"Liberation Sans", sans-serif' font-weight="normal" >0.5</text>
<text transform="translate(566.8,220.7) scale(0.98,1)" font-size="9" text-anchor="middle" fill="#000" font-family='"Liberation Sans", sans-serif' font-weight="normal" >0.6</text>
<text transform="translate(595.55,220.7) scale(0.98,1)" font-size="9" text-anchor="middle" fill="#000" font-family='"Liberation Sans", sans-serif' font-weight="normal" >0.7</text>
<text transform="translate(624.3,220.7) scale(0.98,1)" font-size="9" text-anchor="middle" fill="#000" font-family='"Liberation Sans", sans-serif' font-weight="normal" >0.8</text>
<text transform="translate(653.05,220.7) scale(0.98,1)" font-size="9" text-anchor="middle" fill="#000" font-family='"Liberation Sans", sans-serif' font-weight="normal" >0.9</text>
<text transform="translate(681.5,220.7) scale(1.05,1)" font-size="9" text-anchor="middle" fill="#000" font-family='"Liberation Sans", sans-serif' font-weight="normal" >1</text>
<text transform="translate(658.1,238.8) scale(1.2,1)" font-size="8.1" text-anchor="start" fill="#000" font-family='"Liberation Sans", sans-serif' font-weight="normal" >[GeV]</text><text transform="translate(641.8,238.8) scale(1.05,1)" font-size="8.6" text-anchor="start" fill="#000" font-family='"Liberation Sans", sans-serif' font-weight="normal" >q</text><text transform="translate(645.4,235.9) scale(1,1)" font-size="7" text-anchor="start" fill="#000" font-family='"Liberation Sans", sans-serif' font-weight="normal" >cut</text><text transform="translate(646.8,244) scale(1,1)" font-size="6" text-anchor="start" fill="#000" font-family='"Liberation Sans", sans-serif' font-weight="normal" >T</text>
<text transform="translate(361.0,51.4) rotate(-90)" font-size="9.4" font-family='"Liberation Sans", sans-serif'>ratio to local</text>
<text transform="translate(457.3,14.7) scale(1.07,1)" font-size="11.3" text-anchor="start" fill="#000" font-family='"Liberation Sans", sans-serif' font-weight="normal" >NNLO</text><text transform="translate(457.3,30.5) scale(1.07,1)" font-size="11.3" text-anchor="start" fill="#000" font-family='"Liberation Sans", sans-serif' font-weight="normal" >standard qt-subtr.</text><text transform="translate(457.3,46) scale(1.07,1)" font-size="11.3" text-anchor="start" fill="#000" font-family='"Liberation Sans", sans-serif' font-weight="normal" >FPC qt-subtr.</text><text transform="translate(457.3,61.5) scale(1.07,1)" font-size="11.3" text-anchor="start" fill="#000" font-family='"Liberation Sans", sans-serif' font-weight="normal" >local subtr.</text><line x1="418.9" y1="27.4" x2="450.2" y2="27.4" stroke="#1212c8" stroke-width="1.3" /><rect x="432.55" y="25.4" width="4" height="4" fill="#1212c8"/><line x1="418.9" y1="42.8" x2="450.2" y2="42.8" stroke="#d40000" stroke-width="1.3" stroke-dasharray="2.5,1.5"/><circle cx="434.55" cy="42.8" r="2.2" fill="#d40000"/><rect x="418.9" y="52.9" width="31.3" height="11.1" fill="#868686"/><line x1="418.9" y1="58.4" x2="450.2" y2="58.4" stroke="#111" stroke-width="1" />
<text transform="translate(529.7,258.7) scale(1.1,1)" font-size="13" text-anchor="middle" fill="#000" font-family='"Liberation Serif", serif' font-weight="bold" >(b)</text>
</svg>
</body></html>
